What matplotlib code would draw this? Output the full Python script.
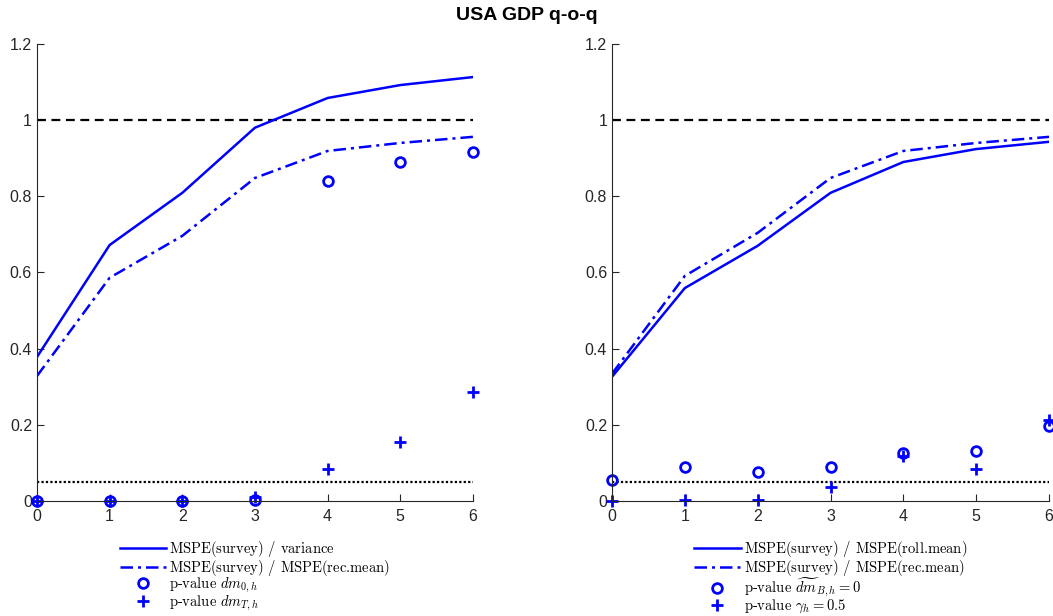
import numpy as np
import matplotlib.pyplot as plt
from matplotlib.lines import Line2D

plt.rcParams['font.family'] = ['Liberation Sans', 'DejaVu Sans']
plt.rcParams['mathtext.fontset'] = 'cm'

# horizons
h = [0, 1, 2, 3, 4, 5, 6]

# left panel: survey vs variance / rec.mean
left_var = [0.378, 0.672, 0.809, 0.980, 1.058, 1.092, 1.113]
left_rec = [0.328, 0.586, 0.696, 0.848, 0.919, 0.940, 0.956]
left_p_dm0 = [0.000, 0.000, 0.000, 0.002, 0.840, 0.890, 0.917]
left_p_dmT = [0.000, 0.000, 0.000, 0.010, 0.084, 0.155, 0.286]

# right panel: survey vs roll.mean / rec.mean
right_roll = [0.326, 0.559, 0.670, 0.809, 0.890, 0.924, 0.943]
right_rec = [0.334, 0.591, 0.704, 0.848, 0.919, 0.940, 0.956]
right_p_dmB = [0.055, 0.090, 0.077, 0.088, 0.125, 0.131, 0.196]
right_p_gam = [0.000, 0.003, 0.002, 0.038, 0.118, 0.083, 0.212]

ref_one = 1.0
ref_sig = 0.05

labels_left = [r'$\text{MSPE(survey) / variance}$',
               r'$\text{MSPE(survey) / MSPE(rec.mean)}$',
               r'$\text{p-value }dm_{0,h}$',
               r'$\text{p-value }dm_{T,h}$']
labels_right = [r'$\text{MSPE(survey) / MSPE(roll.mean)}$',
                r'$\text{MSPE(survey) / MSPE(rec.mean)}$',
                r'$\text{p-value }\widetilde{dm}_{B,h} = 0$',
                r'$\text{p-value }\gamma_h = 0.5$']

blue = '#0000FF'
axc = '#262626'
dashdot = (0, (5, 2, 1.2, 2))

fig = plt.figure(figsize=(10.53, 6.16), dpi=100)
ax1 = fig.add_axes([0.0351, 0.1867, 0.414, 0.742])
ax2 = fig.add_axes([0.5812, 0.1867, 0.415, 0.742])


def draw(ax, solid, dashd, circ, plus, labels):
    ax.plot(h, [ref_one] * len(h), color='k', lw=1.6, ls=(0, (4, 2.5)))
    ax.plot(h, [ref_sig] * len(h), color='k', lw=1.6, ls=(0, (1, 1)))
    ax.plot(h, solid, color=blue, lw=1.8)
    ax.plot(h, dashd, color=blue, lw=1.8, ls=dashdot)
    ax.plot(h, circ, 'o', mfc='none', mec=blue, mew=2, ms=7, clip_on=False)
    ax.plot(h, plus, '+', color=blue, mew=2, ms=8, clip_on=False)
    ax.set_xlim(0, 6)
    ax.set_ylim(0, 1.2)
    ax.set_xticks(h)
    ax.set_yticks([0, 0.2, 0.4, 0.6, 0.8, 1.0, 1.2])
    ax.set_yticklabels(['0', '0.2', '0.4', '0.6', '0.8', '1', '1.2'])
    for s in ['top', 'right']:
        ax.spines[s].set_visible(False)
    for s in ['left', 'bottom']:
        ax.spines[s].set_color(axc)
        ax.spines[s].set_linewidth(0.8)
    ax.tick_params(direction='in', length=5, colors=axc, labelsize=11.5, width=0.8)
    ax.tick_params(axis='x', pad=6)
    handles = [Line2D([], [], color=blue, lw=1.8),
               Line2D([], [], color=blue, lw=1.8, ls=dashdot),
               Line2D([], [], ls='none', marker='o', mfc='none', mec=blue, mew=2, ms=7),
               Line2D([], [], ls='none', marker='+', color=blue, mew=2, ms=8)]
    ax.legend(handles, labels, loc='upper center', bbox_to_anchor=(0.5, -0.061),
              frameon=False, fontsize=10.5, handlelength=3.2, labelspacing=-0.1,
              handletextpad=0.2, borderpad=0.2)


draw(ax1, left_var, left_rec, left_p_dm0, left_p_dmT, labels_left)
draw(ax2, right_roll, right_rec, right_p_dmB, right_p_gam, labels_right)

fig.text(0.5, 0.975, 'USA GDP q-o-q', ha='center', va='center',
         fontsize=14, fontweight='bold')

fig.savefig('out.png', dpi=100)
